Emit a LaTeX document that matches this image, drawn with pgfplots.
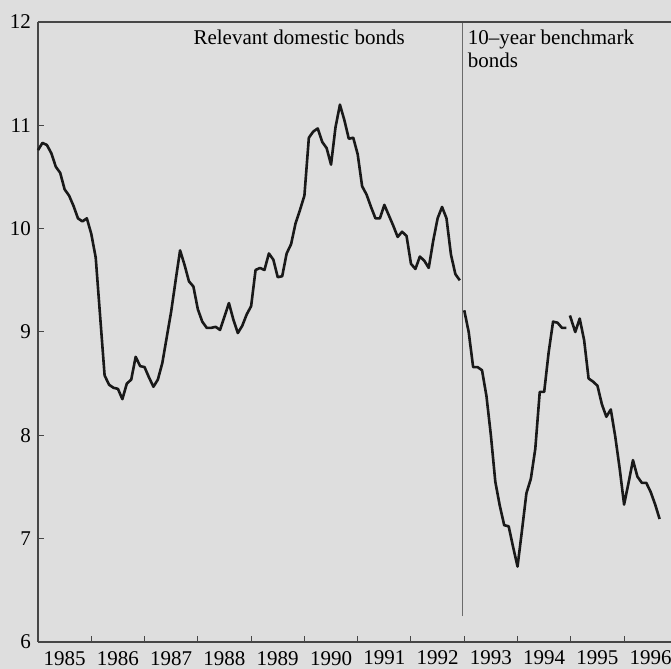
\documentclass[border=0pt]{standalone}
\usepackage{pgfplots}
\pgfplotsset{compat=1.18}
\usepackage{pgfplotstable}
\usepackage{fontspec}
\setmainfont{Liberation Serif}
\usetikzlibrary{backgrounds}
\definecolor{bg}{RGB}{222,222,222}
\definecolor{ln}{RGB}{25,25,25}
\definecolor{ax}{RGB}{70,70,70}

\pgfplotstableread{
m v
0 10.76
1 10.83
2 10.81
3 10.73
4 10.60
5 10.54
6 10.38
7 10.32
8 10.22
9 10.10
10 10.07
11 10.10
12 9.95
13 9.72
14 9.15
15 8.58
16 8.49
17 8.46
18 8.45
19 8.35
20 8.50
21 8.54
22 8.76
23 8.67
24 8.66
25 8.56
26 8.47
27 8.54
28 8.70
29 8.95
30 9.20
31 9.50
32 9.79
33 9.65
34 9.49
35 9.44
36 9.22
37 9.10
38 9.04
39 9.04
40 9.05
41 9.02
42 9.15
43 9.28
44 9.12
45 8.99
46 9.06
47 9.17
48 9.25
49 9.60
50 9.62
51 9.60
52 9.76
53 9.70
54 9.53
55 9.54
56 9.76
57 9.85
58 10.05
59 10.18
60 10.32
61 10.88
62 10.94
63 10.97
64 10.84
65 10.78
66 10.62
67 10.98
68 11.20
69 11.05
70 10.87
71 10.88
72 10.72
73 10.41
74 10.33
75 10.21
76 10.10
77 10.10
78 10.23
79 10.13
80 10.03
81 9.92
82 9.97
83 9.93
84 9.66
85 9.61
86 9.73
87 9.69
88 9.62
89 9.88
90 10.10
91 10.21
92 10.10
93 9.75
94 9.56
95 9.50
}\tA

\pgfplotstableread{
m v
96 9.21
97 9.00
98 8.66
99 8.66
100 8.63
101 8.38
102 8.00
103 7.55
104 7.32
105 7.13
106 7.12
107 6.92
108 6.73
109 7.08
110 7.44
111 7.58
112 7.87
113 8.42
114 8.42
115 8.80
116 9.10
117 9.09
118 9.04
119 9.04
}\tB

\pgfplotstableread{
m v
119.8 9.16
121 9.00
122 9.13
123 8.92
124 8.55
125 8.52
126 8.48
127 8.30
128 8.18
129 8.25
130 7.99
131 7.68
132 7.33
133 7.54
134 7.76
135 7.60
136 7.54
137 7.54
138 7.45
139 7.33
140 7.19
}\tC

\begin{document}
\begin{tikzpicture}
\begin{axis}[
  scale only axis, width=316.5pt, height=310pt,
  xmin=1985, xmax=1996.88, ymin=6, ymax=12,
  axis lines*=left,
  axis line style={draw=ax, line width=0.8pt, -},
  tick align=inside,
  xtick={1985.5,1986.5,...,1996.5},
  xticklabels={1985,1986,1987,1988,1989,1990,1991,1992,1993,1994,1995,1996},
  minor xtick={1986,1987,...,1996},
  major x tick style={draw=none},
  minor x tick style={draw=ax, line width=0.5pt},
  minor tick length=3pt,
  ytick={6,7,...,12},
  y tick style={draw=ax, line width=0.5pt},
  major tick length=3pt,
  tick label style={font=\fontsize{10.5}{12}\selectfont},
  xticklabel style={yshift=-1pt},
  /pgf/number format/assume math mode=true,
  clip=false,
]
\draw[ax!80, line width=0.5pt] (axis cs:1992.96,6.25) -- (axis cs:1992.96,12);
\addplot[ln, line width=1.3pt, line join=round, no marks] table[x expr=1985+\thisrow{m}/12, y=v] {\tA};
\addplot[ln, line width=1.3pt, line join=round, no marks] table[x expr=1985+\thisrow{m}/12, y=v] {\tB};
\addplot[ln, line width=1.3pt, line join=round, no marks] table[x expr=1985+\thisrow{m}/12, y=v] {\tC};
\node[anchor=north, inner sep=0pt, font=\fontsize{10.5}{12}\selectfont] at (axis cs:1989.9,11.925) {Relevant domestic bonds};
\node[anchor=north west, inner sep=0pt, align=left, font=\fontsize{10.5}{11.5}\selectfont] at (axis cs:1993.06,11.925) {10--year benchmark\\bonds};
\end{axis}
\draw[ax, line width=0.8pt] (0pt,310pt) -- (316.5pt,310pt);
\begin{scope}[on background layer]
\fill[bg] (-19pt,-13.5pt) rectangle (316.5pt,321pt);
\end{scope}
\pgfresetboundingbox
\useasboundingbox (-19pt,-13.5pt) rectangle (316.5pt,321pt);
\end{tikzpicture}
\end{document}
